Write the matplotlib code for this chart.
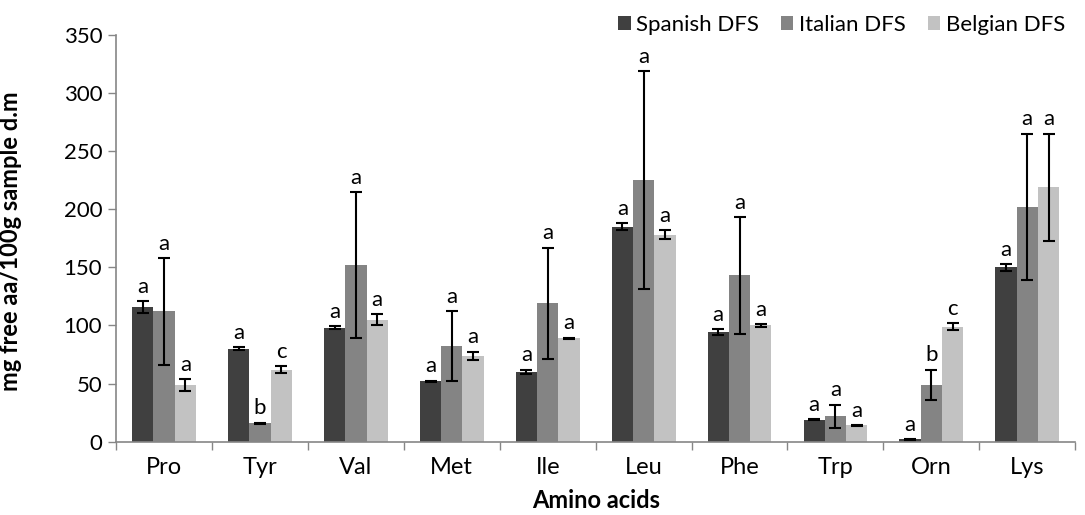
import numpy as np
import matplotlib
matplotlib.use("Agg")
import matplotlib.pyplot as plt

plt.rcParams['font.family'] = ['Lato', 'DejaVu Sans']

# data
amino_acids = ["Pro", "Tyr", "Val", "Met", "Ile", "Leu", "Phe", "Trp", "Orn", "Lys"]
series_names = ["Spanish DFS", "Italian DFS", "Belgian DFS"]

spanish = [116, 80, 98, 52, 60, 185, 94, 19, 2, 150]
italian = [112, 16, 152, 82, 119, 225, 143, 22, 49, 202]
belgian = [49, 62, 105, 74, 89, 178, 100, 14, 99, 219]

spanish_err = [5, 1.5, 1.5, 0.5, 2, 3, 2.5, 0.5, 0.5, 3]
italian_err = [46, 0.5, 63, 30, 48, 94, 50, 10, 13, 63]
belgian_err = [5, 3, 5, 3.5, 0.5, 4, 1, 0.5, 3, 46]

spanish_letters = ["a"] * 10
italian_letters = ["a", "b", "a", "a", "a", "a", "a", "a", "b", "a"]
belgian_letters = ["a", "c", "a", "a", "a", "a", "a", "a", "c", "a"]

colors = ["#404040", "#848484", "#c2c2c2"]

fig = plt.figure(figsize=(10.85, 5.15), dpi=100)
ax = fig.add_axes([0.107, 0.1423, 0.884, 0.7903])

x = np.arange(len(amino_acids))
width = 0.222
values = [spanish, italian, belgian]
errors = [spanish_err, italian_err, belgian_err]
letters = [spanish_letters, italian_letters, belgian_letters]

for i in range(3):
    pos = x + (i - 1) * width
    ax.bar(pos, values[i], width, color=colors[i], label=series_names[i], zorder=2)
    ax.errorbar(pos, values[i], yerr=errors[i], fmt="none", ecolor="black",
                elinewidth=1.5, capsize=4.5, capthick=1.5, zorder=3)
    for xp, v, e, lab in zip(pos, values[i], errors[i], letters[i]):
        ax.annotate(lab, (xp, v + e), xytext=(0, 3), textcoords="offset points",
                    ha="center", va="bottom", fontsize=16)

ax.set_xlim(-0.5, len(amino_acids) - 0.5)
ax.set_ylim(0, 350)
ax.set_yticks(range(0, 351, 50))
ax.set_xticks(x)
ax.set_xticklabels(amino_acids)
ax.set_xticks(np.arange(-0.5, len(amino_acids)), minor=True)
ax.tick_params(axis="x", which="major", length=0, pad=11, labelsize=17)
ax.tick_params(axis="x", which="minor", length=6, color="#868686", width=1)
ax.tick_params(axis="y", length=6, color="#868686", width=1, labelsize=16, pad=4)

for s in ["top", "right"]:
    ax.spines[s].set_visible(False)
for s in ["left", "bottom"]:
    ax.spines[s].set_color("#868686")
    ax.spines[s].set_linewidth(1.2)

ax.set_xlabel("Amino acids", fontsize=17, fontweight="bold")
ax.set_ylabel("mg free aa/100g sample d.m", fontsize=17, fontweight="bold")
ax.xaxis.set_label_coords(0.5, -0.115)
ax.yaxis.set_label_coords(-0.098, 0.492)

fig.legend(loc="upper right", bbox_to_anchor=(1.0, 1.01), ncol=3, frameon=False,
           fontsize=16, handlelength=0.55, handleheight=0.55, handletextpad=0.25,
           columnspacing=1.0)

fig.savefig("out.png", dpi=100)
